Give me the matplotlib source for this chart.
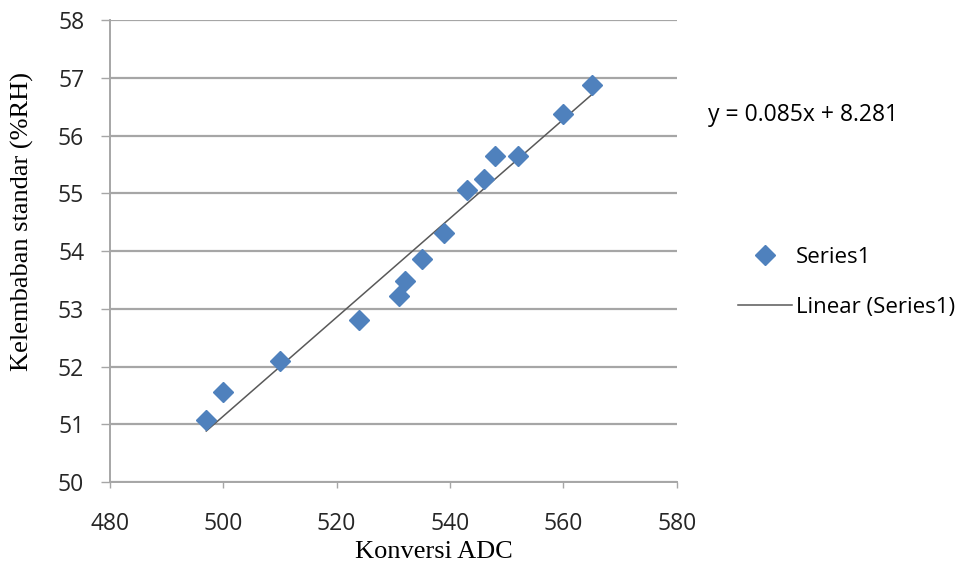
import numpy as np
import matplotlib
matplotlib.use("Agg")
import matplotlib.pyplot as plt

# ADC conversion vs reference humidity
adc_values = [497, 500, 510, 524, 531, 532, 535, 539, 543, 546, 548, 552, 560, 565]
rh_values = [51.07, 51.56, 52.10, 52.81, 53.22, 53.48, 53.86, 54.31,
             55.06, 55.25, 55.65, 55.65, 56.37, 56.87]
x_ticks = [480, 500, 520, 540, 560, 580]
y_ticks = [50, 51, 52, 53, 54, 55, 56, 57, 58]
equation_text = "y = 0.085x + 8.281"

C_POINT = "#4F81BD"
C_GRID = "#A6A6A6"
SANS = "Open Sans"
SERIF = "Liberation Serif"

fig = plt.figure(figsize=(9.64, 5.70), dpi=100)
ax = fig.add_axes([0.114, 0.154, 0.588, 0.811])

x = np.array(adc_values)
y = np.array(rh_values)
slope, icept = np.polyfit(x, y, 1)
xl = np.array([x.min(), x.max()])

ax.plot(x, y, linestyle="none", marker="D", markersize=10,
        color=C_POINT, label="Series1", zorder=3)
ax.plot(xl, slope * xl + icept, color="#595959", linewidth=1.1,
        label="Linear (Series1)", zorder=2)

ax.set_xlim(480, 580)
ax.set_ylim(50, 58)
ax.set_xticks(x_ticks)
ax.set_yticks(y_ticks)
ax.yaxis.grid(True, color=C_GRID, linewidth=1.6)
ax.set_axisbelow(True)
for s in ["top", "right"]:
    ax.spines[s].set_visible(False)
for s in ["left", "bottom"]:
    ax.spines[s].set_color(C_GRID)
    ax.spines[s].set_linewidth(1.4)
ax.tick_params(axis="x", colors=C_GRID, length=4.5, width=1,
               labelcolor="#262626", labelsize=16.5, pad=17)
ax.tick_params(axis="y", colors=C_GRID, length=6.5, width=1,
               labelcolor="#262626", labelsize=16.5, pad=12)
for lab in ax.get_xticklabels() + ax.get_yticklabels():
    lab.set_fontfamily(SANS)

ax.set_xlabel("Konversi ADC", fontfamily=SERIF, fontsize=19)
ax.set_ylabel("Kelembaban standar (%RH)", fontfamily=SERIF, fontsize=19)
ax.xaxis.set_label_coords(0.571, -0.128)
ax.yaxis.set_label_coords(-0.134, 0.565)

fig.text(0.734, 0.798, equation_text, fontfamily=SANS, fontsize=16.5,
         va="center", ha="left")

leg = fig.legend(loc="upper left", bbox_to_anchor=(0.745, 0.602), frameon=False,
                 prop={"family": SANS, "size": 16}, handlelength=2.4,
                 labelspacing=1.3, handletextpad=0.2)

fig.savefig("out.png", dpi=100, facecolor="white")
